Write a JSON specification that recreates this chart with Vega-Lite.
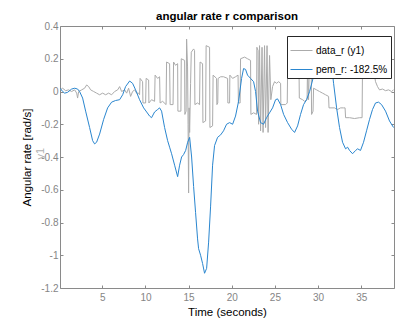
{
  "$schema": "https://vega.github.io/schema/vega-lite/v6.json",
  "autosize": {"type": "none"},
  "padding": {"left": 60, "top": 26, "right": 1, "bottom": 34},
  "width": 334,
  "height": 262,
  "title": {"text": "angular rate r comparison", "fontSize": 11.5, "fontWeight": "bold", "font": "Liberation Sans", "color": "#000000", "offset": -1, "anchor": "middle"},
  "config": {
    "font": "Liberation Sans",
    "view": {"stroke": "#8a8a8a", "strokeWidth": 1},
    "axis": {"grid": false, "domain": false, "tickColor": "#8a8a8a", "tickSize": -3, "labelColor": "#858585", "labelFontSize": 10, "labelFont": "Liberation Sans", "titleFont": "Liberation Sans", "titleFontWeight": "normal", "titleColor": "#000000", "titleFontSize": 11.5}
  },
  "datasets": {
    "meas": [
      {"t":0.1,"r":0.01},{"t":0.41,"r":0.02},{"t":0.75,"r":0.005},{"t":1.10,"r":0.01},{"t":1.45,"r":0.0},{"t":1.80,"r":0.01},{"t":2.03,"r":-0.01},{"t":2.14,"r":-0.04},{"t":2.26,"r":0.0},{"t":2.61,"r":0.01},{"t":2.95,"r":0.02},{"t":3.19,"r":0.04},{"t":3.42,"r":0.03},{"t":3.65,"r":0.01},{"t":4.00,"r":0.0},{"t":4.34,"r":-0.01},{"t":4.69,"r":-0.02},{"t":5.04,"r":-0.01},{"t":5.39,"r":-0.02},{"t":5.73,"r":-0.01},{"t":6.08,"r":-0.02},{"t":6.43,"r":0.0},{"t":6.78,"r":0.01},{"t":7.01,"r":0.03},{"t":7.24,"r":0.0},{"t":7.59,"r":0.01},{"t":7.82,"r":-0.01},{"t":8.05,"r":0.02},{"t":8.28,"r":-0.03},{"t":8.51,"r":0.0},{"t":8.75,"r":0.01},{"t":8.98,"r":-0.01},{"t":9.21,"r":-0.01},
      {"t":9.32,"r":-0.02},{"t":9.38,"r":0.08},{"t":9.67,"r":0.06},{"t":9.71,"r":-0.07},{"t":10.02,"r":-0.07},{"t":10.08,"r":0.08},{"t":10.37,"r":0.07},{"t":10.40,"r":-0.07},{"t":10.71,"r":-0.05},{"t":11.06,"r":-0.06},{"t":11.12,"r":0.1},{"t":11.41,"r":0.08},{"t":11.64,"r":0.09},{"t":11.70,"r":-0.07},{"t":11.99,"r":-0.06},{"t":12.39,"r":-0.08},{"t":12.45,"r":0.18},{"t":12.80,"r":0.17},{"t":12.86,"r":-0.08},{"t":13.20,"r":-0.08},{"t":13.26,"r":0.18},{"t":13.49,"r":0.16},{"t":13.73,"r":0.17},{"t":13.76,"r":-0.12},{"t":14.11,"r":-0.12},{"t":14.15,"r":0.2},{"t":14.54,"r":0.19},{"t":14.57,"r":-0.14},{"t":14.71,"r":-0.12},{"t":14.77,"r":0.32},{"t":14.88,"r":0.15},{"t":14.94,"r":-0.2},{"t":15.00,"r":-0.62},{"t":15.06,"r":-0.1},{"t":15.12,"r":-0.25},{"t":15.23,"r":0.05},{"t":15.31,"r":0.24},{"t":15.58,"r":0.26},{"t":15.69,"r":0.25},{"t":15.73,"r":-0.08},{"t":16.04,"r":-0.07},{"t":16.27,"r":-0.08},{"t":16.33,"r":0.18},{"t":16.62,"r":0.17},{"t":16.66,"r":-0.19},{"t":16.97,"r":-0.18},{"t":17.03,"r":0.28},{"t":17.43,"r":0.27},{"t":17.47,"r":-0.22},{"t":17.78,"r":-0.21},{"t":17.84,"r":0.1},{"t":18.24,"r":0.08},{"t":18.28,"r":-0.08},{"t":18.38,"r":-0.07},{"t":18.42,"r":0.08},{"t":18.71,"r":0.09},{"t":19.05,"r":0.09},{"t":19.52,"r":0.08},{"t":19.55,"r":-0.07},{"t":19.75,"r":-0.07},{"t":19.78,"r":0.1},{"t":20.10,"r":0.08},{"t":20.44,"r":0.09},{"t":20.73,"r":0.1},{"t":20.77,"r":-0.07},{"t":20.97,"r":-0.07},{"t":21.02,"r":0.2},{"t":21.49,"r":0.21},{"t":21.83,"r":0.2},{"t":22.18,"r":0.19},{"t":22.22,"r":-0.14},{"t":22.53,"r":-0.13},{"t":22.88,"r":-0.14},{"t":22.91,"r":0.27},{"t":23.05,"r":0.25},{"t":23.11,"r":-0.2},{"t":23.22,"r":0.28},{"t":23.34,"r":-0.24},{"t":23.51,"r":0.27},{"t":23.63,"r":-0.25},{"t":23.80,"r":0.28},{"t":23.92,"r":-0.22},{"t":24.09,"r":0.28},{"t":24.21,"r":-0.25},{"t":24.38,"r":0.22},{"t":24.53,"r":-0.05},{"t":24.73,"r":0.03},{"t":24.96,"r":0.06},{"t":25.19,"r":0.05},{"t":25.43,"r":0.06},{"t":25.66,"r":0.05},{"t":25.69,"r":-0.08},{"t":26.24,"r":-0.08},{"t":26.43,"r":-0.07},{"t":26.47,"r":0.1},{"t":26.93,"r":0.1},{"t":27.39,"r":0.11},{"t":27.80,"r":0.1},{"t":27.83,"r":-0.04},{"t":28.21,"r":-0.05},{"t":28.44,"r":-0.06},{"t":28.73,"r":-0.05},{"t":28.78,"r":0.15},{"t":28.90,"r":-0.05},{"t":29.02,"r":0.22},{"t":29.19,"r":0.25},{"t":29.25,"r":-0.14},{"t":29.42,"r":-0.12},{"t":29.48,"r":0.02},{"t":29.83,"r":0.01},{"t":30.17,"r":0.0},{"t":30.52,"r":-0.01},{"t":30.87,"r":-0.02},{"t":31.22,"r":-0.03},{"t":31.27,"r":-0.1},{"t":31.91,"r":-0.1},{"t":32.26,"r":-0.11},{"t":32.61,"r":-0.1},{"t":32.95,"r":-0.1},{"t":33.13,"r":-0.1},{"t":33.19,"r":-0.16},{"t":33.65,"r":-0.16},{"t":34.23,"r":-0.165},{"t":34.81,"r":-0.16},{"t":35.10,"r":-0.16},{"t":35.15,"r":0.13},{"t":35.39,"r":0.11},{"t":35.62,"r":0.14},{"t":35.85,"r":0.12},{"t":36.20,"r":0.13},{"t":36.43,"r":0.1},{"t":36.60,"r":0.08},{"t":36.66,"r":0.06},{"t":36.89,"r":0.03},{"t":37.12,"r":0.01},{"t":37.47,"r":0.015},{"t":37.82,"r":0.005},{"t":38.17,"r":0.01},{"t":38.51,"r":0.0},{"t":38.75,"r":0.01}
    ],
    "model": [
      {"t":0.1,"r":0.02},{"t":0.41,"r":0.0},{"t":0.64,"r":-0.01},{"t":0.98,"r":-0.005},{"t":1.45,"r":0.015},{"t":1.80,"r":0.02},{"t":2.14,"r":0.015},{"t":2.37,"r":0.0},{"t":2.72,"r":-0.04},{"t":3.07,"r":-0.12},{"t":3.53,"r":-0.22},{"t":3.88,"r":-0.3},{"t":4.11,"r":-0.32},{"t":4.34,"r":-0.31},{"t":4.69,"r":-0.26},{"t":5.16,"r":-0.17},{"t":5.62,"r":-0.1},{"t":6.08,"r":-0.065},{"t":6.54,"r":-0.055},{"t":7.01,"r":-0.05},{"t":7.36,"r":-0.02},{"t":7.70,"r":0.03},{"t":8.17,"r":0.064},{"t":8.51,"r":0.05},{"t":8.86,"r":0.01},{"t":9.32,"r":-0.05},{"t":9.79,"r":-0.1},{"t":10.14,"r":-0.125},{"t":10.48,"r":-0.15},{"t":10.71,"r":-0.16},{"t":11.06,"r":-0.125},{"t":11.41,"r":-0.11},{"t":11.64,"r":-0.1},{"t":11.87,"r":-0.12},{"t":12.22,"r":-0.22},{"t":12.57,"r":-0.3},{"t":12.80,"r":-0.34},{"t":13.03,"r":-0.38},{"t":13.38,"r":-0.45},{"t":13.73,"r":-0.52},{"t":13.96,"r":-0.45},{"t":14.19,"r":-0.4},{"t":14.42,"r":-0.385},{"t":14.66,"r":-0.36},{"t":14.89,"r":-0.31},{"t":15.12,"r":-0.28},{"t":15.35,"r":-0.4},{"t":15.58,"r":-0.58},{"t":15.81,"r":-0.74},{"t":16.04,"r":-0.9},{"t":16.16,"r":-0.96},{"t":16.39,"r":-1.0},{"t":16.62,"r":-1.05},{"t":16.85,"r":-1.11},{"t":17.09,"r":-1.08},{"t":17.32,"r":-0.92},{"t":17.55,"r":-0.7},{"t":17.78,"r":-0.45},{"t":18.01,"r":-0.33},{"t":18.36,"r":-0.28},{"t":18.71,"r":-0.265},{"t":19.05,"r":-0.24},{"t":19.40,"r":-0.2},{"t":19.75,"r":-0.19},{"t":20.10,"r":-0.2},{"t":20.44,"r":-0.15},{"t":20.79,"r":-0.06},{"t":21.14,"r":0.08},{"t":21.37,"r":0.14},{"t":21.60,"r":0.135},{"t":21.83,"r":0.1},{"t":22.18,"r":0.08},{"t":22.53,"r":0.06},{"t":22.76,"r":0.0},{"t":22.99,"r":-0.12},{"t":23.34,"r":-0.19},{"t":23.69,"r":-0.2},{"t":24.03,"r":-0.16},{"t":24.38,"r":-0.13},{"t":24.73,"r":-0.1},{"t":25.08,"r":-0.05},{"t":25.31,"r":-0.045},{"t":25.66,"r":-0.08},{"t":26.01,"r":-0.14},{"t":26.47,"r":-0.19},{"t":26.93,"r":-0.23},{"t":27.28,"r":-0.25},{"t":27.63,"r":-0.21},{"t":27.97,"r":-0.14},{"t":28.32,"r":-0.08},{"t":28.67,"r":-0.05},{"t":29.02,"r":0.0},{"t":29.37,"r":0.07},{"t":29.71,"r":0.16},{"t":30.17,"r":0.25},{"t":30.64,"r":0.29},{"t":31.10,"r":0.27},{"t":31.45,"r":0.21},{"t":31.80,"r":0.05},{"t":32.15,"r":-0.1},{"t":32.49,"r":-0.22},{"t":32.84,"r":-0.31},{"t":33.19,"r":-0.35},{"t":33.42,"r":-0.34},{"t":33.65,"r":-0.36},{"t":34.00,"r":-0.38},{"t":34.35,"r":-0.36},{"t":34.58,"r":-0.35},{"t":34.92,"r":-0.36},{"t":35.27,"r":-0.31},{"t":35.62,"r":-0.24},{"t":35.97,"r":-0.17},{"t":36.31,"r":-0.11},{"t":36.66,"r":-0.07},{"t":37.01,"r":-0.065},{"t":37.36,"r":-0.08},{"t":37.82,"r":-0.12},{"t":38.28,"r":-0.18},{"t":38.75,"r":-0.22}
    ],
    "notes": [{"label": "y1"}]
  },
  "layer": [
    {
      "data": {"name": "meas"},
      "mark": {"type": "line", "strokeWidth": 1, "clip": true},
      "encoding": {
        "x": {"field": "t", "type": "quantitative", "scale": {"domain": [0.1, 38.8], "nice": false, "zero": false},
              "axis": {"orient": "bottom", "values": [5,10,15,20,25,30,35], "labelPadding": 7, "title": "Time (seconds)", "titlePadding": 4}},
        "y": {"field": "r", "type": "quantitative", "scale": {"domain": [-1.2, 0.4], "nice": false, "zero": false},
              "axis": {"orient": "left", "values": [-1.2,-1,-0.8,-0.6,-0.4,-0.2,0,0.2,0.4], "labelPadding": 5, "labelExpr": "replace(format(datum.value, '~g'), '\u2212', '-')", "title": "Angular rate [rad/s]", "titlePadding": 8}},
        "color": {"datum": "data_r (y1)", "type": "nominal",
                  "scale": {"domain": ["data_r (y1)", "pem_r: -182.5%"], "range": ["#ababab", "#2a86cf"]},
                  "legend": {"orient": "none", "legendX": 227, "legendY": 10, "title": null, "symbolType": "stroke", "symbolSize": 484, "symbolStrokeWidth": 1, "labelFontSize": 10, "labelColor": "#000000", "labelFont": "Liberation Sans", "labelOffset": 3, "rowPadding": 2, "padding": 3, "strokeColor": "#262626", "fillColor": "#ffffff", "cornerRadius": 0}}
      }
    },
    {
      "data": {"name": "model"},
      "mark": {"type": "line", "strokeWidth": 1, "clip": true},
      "encoding": {
        "x": {"field": "t", "type": "quantitative", "scale": {"domain": [0.1, 38.8], "nice": false, "zero": false},
              "axis": {"orient": "top", "values": [5,10,15,20,25,30,35], "labels": false, "title": null}},
        "y": {"field": "r", "type": "quantitative", "scale": {"domain": [-1.2, 0.4], "nice": false, "zero": false},
              "axis": {"orient": "right", "values": [-1.2,-1,-0.8,-0.6,-0.4,-0.2,0,0.2,0.4], "labels": false, "title": null}},
        "color": {"datum": "pem_r: -182.5%", "type": "nominal"}
      }
    },
    {
      "data": {"name": "notes"},
      "mark": {"type": "text", "angle": 270, "fontSize": 11, "color": "#b0b0b0", "font": "Liberation Sans", "align": "center", "baseline": "middle"},
      "encoding": {
        "x": {"datum": -2.1, "type": "quantitative", "axis": null},
        "y": {"datum": -0.38, "type": "quantitative", "axis": null},
        "text": {"field": "label", "type": "nominal"}
      }
    }
  ],
  "resolve": {"axis": {"x": "independent", "y": "independent"}}
}
